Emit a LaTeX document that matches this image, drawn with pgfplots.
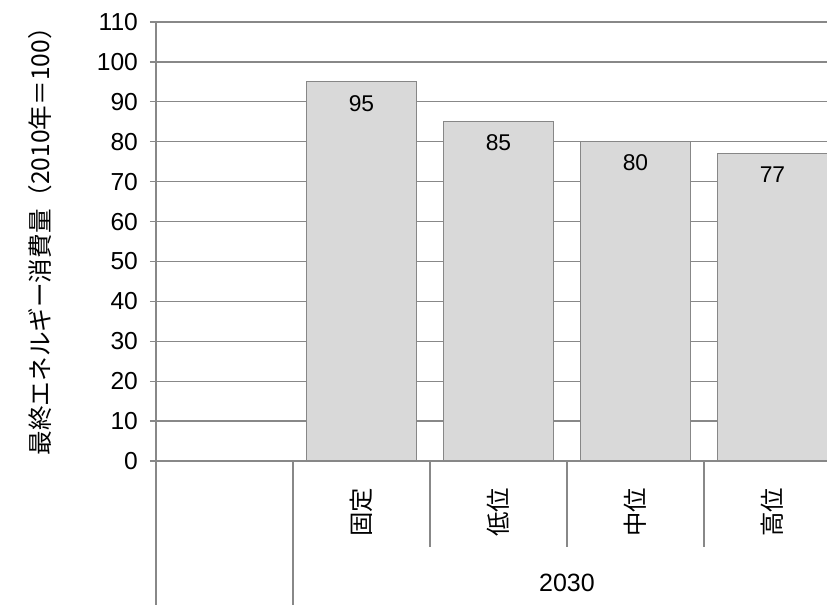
\documentclass[border=0pt]{standalone}
\usepackage{fontspec}
\setmainfont{Liberation Sans}
\newfontfamily\cjk{Noto Sans CJK JP}
\usepackage{pgfplots}
\pgfplotsset{compat=1.18}
\definecolor{barfill}{HTML}{D9D9D9}
\definecolor{baredge}{HTML}{878787}
\definecolor{gridc}{HTML}{888888}

\begin{document}
\begin{tikzpicture}
\begin{axis}[
  scale only axis,
  width=335.5pt, height=219.5pt,
  xmin=-0.5, xmax=4.398,
  ymin=0, ymax=110,
  ytick={0,10,...,110},
  xtick={1,2,3,4},
  xticklabels={固定,低位,中位,高位},
  axis lines=left,
  axis line style={gridc, -, line width=0.6pt},
  ymajorgrids,
  major grid style={gridc, line width=0.6pt},
  ytick style={gridc, line width=0.6pt},
  xtick style={draw=none},
  tick align=outside,
  major tick length=3pt,
  /pgf/number format/assume math mode=true,
  yticklabel style={font=\fontsize{12.3}{14}\selectfont, xshift=-2.5pt},
  xticklabel style={font=\cjk\fontsize{12.2}{14}\selectfont, rotate=90, anchor=center, xshift=-22.5pt},
  every axis y label/.style={at={(rel axis cs:0,0.514)}, xshift=-58pt, rotate=90, anchor=center},
  ylabel={最終エネルギー消費量（2010年＝100）},
  ylabel style={font=\cjk\fontsize{12.3}{14}\selectfont},
  ybar, bar width=55pt,
  clip=false,
]
\addplot[fill=barfill, draw=baredge, line width=0.6pt,
  nodes near coords,
  nodes near coords style={anchor=north, text=black, yshift=-3pt, font=\fontsize{11.4}{13}\selectfont}]
  coordinates {(1,95) (2,85) (3,80) (4,77)};

% multi-level category separators (1 unit = 1.9955pt)
\draw[gridc, line width=0.6pt] (axis cs:-0.5,0) -- (axis cs:-0.5,-36.1);
\draw[gridc, line width=0.6pt] (axis cs:0.5,0) -- (axis cs:0.5,-36.1);
\draw[gridc, line width=0.6pt] (axis cs:1.5,0) -- (axis cs:1.5,-21.6);
\draw[gridc, line width=0.6pt] (axis cs:2.5,0) -- (axis cs:2.5,-21.6);
\draw[gridc, line width=0.6pt] (axis cs:3.5,0) -- (axis cs:3.5,-21.6);
\node[font=\fontsize{12.5}{14}\selectfont] at (axis cs:2.5,-30.6) {2030};
\coordinate (ll) at (rel axis cs:0,0);
\end{axis}
\pgfresetboundingbox
\path (ll) ++(-78pt,-72pt) rectangle ++(413.5pt,302.5pt);
\end{tikzpicture}
\end{document}
